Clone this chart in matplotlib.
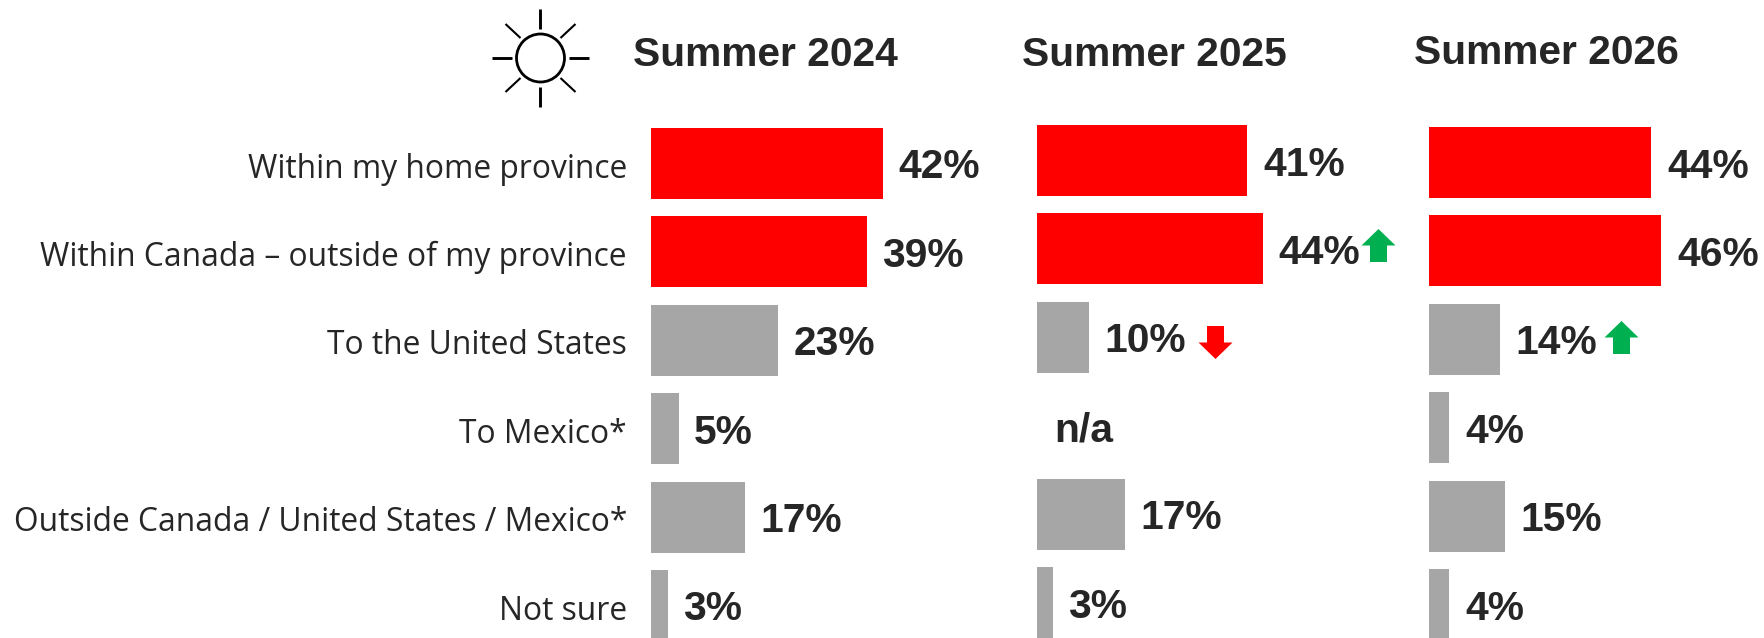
import matplotlib
matplotlib.use("Agg")
import matplotlib.pyplot as plt
from matplotlib.patches import Circle
from matplotlib.path import Path
from matplotlib.transforms import Affine2D, offset_copy

# survey answers, one list per summer (None = not asked)
categories = ["Within my home province", "Within Canada – outside of my province",
              "To the United States", "To Mexico*",
              "Outside Canada / United States / Mexico*", "Not sure"]
summers = ["Summer 2024", "Summer 2025", "Summer 2026"]
values_2024 = [42, 39, 23, 5, 17, 3]
values_2025 = [41, 44, 10, None, 17, 3]
values_2026 = [44, 46, 14, 4, 15, 4]

RED = "#FF0000"
GREY = "#A6A6A6"
GREEN = "#00B050"
TEXT = "#262626"
W, H = 1765, 638

plt.rcParams['font.family'] = ['Liberation Sans', 'DejaVu Sans']

fig = plt.figure(figsize=(W / 100, H / 100), dpi=100, facecolor="white")

# block arrow shapes for the change markers
UP = Path([(-0.5, -0.97), (-0.5, 0.0), (-1, 0.0), (0, 0.97), (1, 0.0), (0.5, 0.0), (0.5, -0.97), (-0.5, -0.97)],
          closed=True)
DOWN = Path([(x, -y) for x, y in UP.vertices], closed=True)


def panel(values, x0, top_center, px_per_pct, pitch=88.4, bar_h=71, label_gap=15.5):
    # axes covers full figure height so rows land where we want them
    width = px_per_pct * 52
    ax = fig.add_axes([x0 / W, 0, width / W, 1])
    ax.set_xlim(0, 52)
    ax.set_ylim((H - top_center) / pitch, -top_center / pitch)
    ax.patch.set_alpha(0)
    for s in ax.spines.values():
        s.set_visible(False)
    ax.set_xticks([])
    ax.set_yticks([])
    for i, v in enumerate(values):
        if v is None:
            continue
        colour = RED if i < 2 else GREY
        ax.barh(i, v, height=bar_h / pitch, color=colour, linewidth=0)
        ax.annotate(f"{v}%", (v, i), xytext=(label_gap * 0.72, -4 * 0.72), textcoords="offset points",
                    ha="left", va="center", fontsize=29.3, fontweight="bold", color=TEXT,
                    annotation_clip=False)
    return ax


def add_arrow(ax, row, value, direction, dx, dy):
    trans = offset_copy(ax.transData, fig=fig, x=dx, y=-dy, units="dots")
    marker = UP if direction == "up" else DOWN
    ax.plot([value], [row], marker=marker, markersize=34 * 0.72, markeredgewidth=0,
            color=GREEN if direction == "up" else RED, transform=trans, clip_on=False)


ax1 = panel(values_2024, 651, 163.5, 5.53)
ax2 = panel(values_2025, 1037.5, 160.5, 5.12)
ax3 = panel(values_2026, 1429, 162.5, 5.05, label_gap=16)

ax1.set_yticks(range(len(categories)))
ax1.set_yticklabels(categories, fontsize=22.9, color=TEXT, family=['Open Sans', 'DejaVu Sans'])
ax1.tick_params(axis="y", length=0, pad=17.3)
for lab in ax1.get_yticklabels():
    lab.set_transform(lab.get_transform() + Affine2D().translate(0, -1.5))

ax2.annotate("n/a", (0, 3), xytext=(16.5 * 0.72, -4.5 * 0.72), textcoords="offset points",
             ha="left", va="center", fontsize=29.3, fontweight="bold", color=TEXT)

add_arrow(ax2, 1, values_2025[1], "up", 115, -4)
add_arrow(ax2, 2, values_2025[2], "down", 126, 5)
add_arrow(ax3, 2, values_2026[2], "up", 121.5, -2)

# overlay in pixel units for the headers and the sun icon
top = fig.add_axes([0, 0, 1, 1])
top.set_xlim(0, W)
top.set_ylim(H, 0)
top.axis("off")
top.patch.set_alpha(0)

for name, x, y in zip(summers, [633, 1022, 1414], [66, 66, 64]):
    top.text(x, y, name, fontsize=29.3, fontweight="bold", color=TEXT, ha="left", va="baseline")

cx, cy = 540.5, 58
top.add_patch(Circle((cx, cy), 24, fill=False, edgecolor="black", linewidth=2.0))
for dx, dy in [(1, 0), (-1, 0), (0, 1), (0, -1)]:
    top.plot([cx + dx * 28.5, cx + dx * 48.5], [cy + dy * 29, cy + dy * 49], color="black", lw=2.1,
             solid_capstyle="butt")
for dx, dy in [(1, 1), (1, -1), (-1, 1), (-1, -1)]:
    top.plot([cx + dx * 20, cx + dx * 35], [cy + dy * 20, cy + dy * 34], color="black", lw=1.5,
             solid_capstyle="butt")

fig.savefig("out.png", dpi=100)
